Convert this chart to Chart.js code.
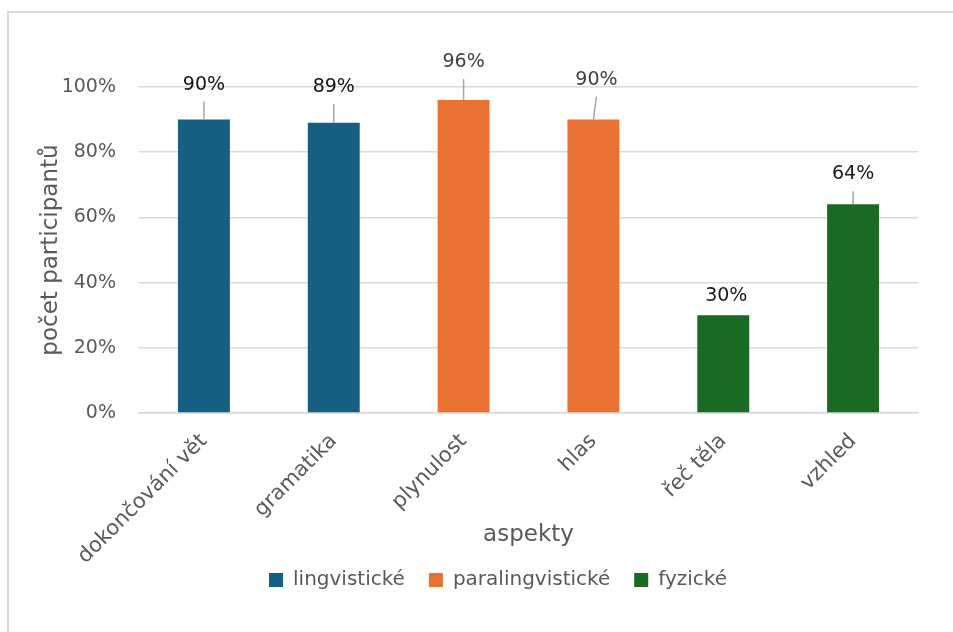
<!DOCTYPE html>
<html>
<head>
<meta charset="utf-8">
<script src="https://cdn.jsdelivr.net/npm/chart.js@4.4.1/dist/chart.umd.min.js"></script>
<style>
  html, body { margin: 0; padding: 0; background: #fff; overflow: hidden; width: 953px; height: 632px; }
  #frame {
    position: absolute; left: 7px; top: 11px; width: 944px; height: 619px;
    border-left: 2px solid #d9d9d9; border-top: 2px solid #d9d9d9;
  }
  #chart { position: absolute; left: 0; top: 0; }
</style>
</head>
<body>
<div id="frame"></div>
<canvas id="chart" width="953" height="632"></canvas>
<script>
const categories = ['dokončování vět', 'gramatika', 'plynulost', 'hlas', 'řeč těla', 'vzhled'];
const lingvisticke = [90, 89, null, null, null, null];
const paralingvisticke = [null, null, 96, 90, null, null];
const fyzicke = [null, null, null, null, 30, 64];
const yTickValues = [0, 20, 40, 60, 80, 100];

// where each value label sits relative to the top of its bar
const labelLayout = [
    { dx: 0, dy: -35, line: true, color: '#111111' },
    { dx: 0, dy: -36, line: true, color: '#111111' },
    { dx: 0, dy: -38, line: true, color: '#404040' },
    { dx: 3, dy: -40, line: true, color: '#404040' },
    { dx: 3, dy: -19, line: false, color: '#1a1a1a' },
    { dx: 0, dy: -30, line: true, color: '#1a1a1a' }
];

const FONT = "'DejaVu Sans', sans-serif";
const legendShiftX = 39;
const legendShiftY = -19;

const valueLabels = {
    id: 'valueLabels',
    afterLayout(chart) {
        // Excel places the legend a bit right of centre and tucked under the axis labels
        const lg = chart.legend;
        lg.left += legendShiftX;
        lg.right += legendShiftX;
        lg.top += legendShiftY;
        lg.bottom += legendShiftY;
    },
    afterDatasetsDraw(chart) {
        const ctx = chart.ctx;
        ctx.save();
        ctx.font = '19px ' + FONT;
        ctx.textAlign = 'center';
        ctx.textBaseline = 'middle';
        chart.data.datasets.forEach((ds, di) => {
            const meta = chart.getDatasetMeta(di);
            meta.data.forEach((bar, i) => {
                const v = ds.data[i];
                if (v === null) return;
                const l = labelLayout[i];
                const lx = bar.x + l.dx;
                const ly = bar.y + l.dy;
                if (l.line) {
                    ctx.strokeStyle = '#a6a6a6';
                    ctx.lineWidth = 1.5;
                    ctx.beginPath();
                    ctx.moveTo(lx, ly + 17);
                    ctx.lineTo(bar.x, bar.y);
                    ctx.stroke();
                }
                ctx.fillStyle = l.color;
                ctx.fillText(v + '%', lx, ly);
            });
        });
        ctx.restore();
    }
};

new Chart(document.getElementById('chart'), {
    type: 'bar',
    data: {
        labels: categories,
        datasets: [
            { label: 'lingvistické', data: lingvisticke, backgroundColor: '#156082' },
            { label: 'paralingvistické', data: paralingvisticke, backgroundColor: '#E97132' },
            { label: 'fyzické', data: fyzicke, backgroundColor: '#196B24' }
        ]
    },
    options: {
        responsive: false,
        animation: false,
        devicePixelRatio: 1,
        grouped: false,
        barPercentage: 0.4,
        categoryPercentage: 1,
        layout: { padding: { left: 0, top: 87, right: 35, bottom: 13 } },
        plugins: {
            tooltip: { enabled: false },
            legend: {
                position: 'bottom',
                labels: {
                    boxWidth: 14,
                    boxHeight: 14,
                    padding: 24,
                    color: '#595959',
                    font: { family: FONT, size: 20 }
                }
            }
        },
        scales: {
            x: {
                grid: { display: false },
                border: { color: '#d9d9d9', width: 1.5 },
                ticks: {
                    color: '#595959',
                    font: { family: FONT, size: 21 },
                    minRotation: 45,
                    maxRotation: 45,
                    autoSkip: false,
                    padding: 8
                },
                title: {
                    display: true,
                    text: 'aspekty',
                    color: '#595959',
                    font: { family: FONT, size: 23, lineHeight: 1 },
                    padding: { top: 0, bottom: 18.5 }
                },
                afterFit(scale) { scale.height = 152; }
            },
            y: {
                min: 0,
                max: 100,
                grid: { color: '#d9d9d9', lineWidth: 1.5, drawTicks: false },
                border: { display: false },
                afterBuildTicks(scale) {
                    scale.ticks = yTickValues.map(v => ({ value: v }));
                },
                ticks: {
                    color: '#595959',
                    font: { family: FONT, size: 19 },
                    padding: 23,
                    callback: v => v + '%'
                },
                title: {
                    display: true,
                    text: 'počet participantů',
                    color: '#595959',
                    font: { family: FONT, size: 23, lineHeight: 1 },
                    padding: { top: 40, bottom: 0 }
                },
                afterFit(scale) { scale.width = 139; }
            }
        }
    },
    plugins: [valueLabels]
});
</script>
</body>
</html>
